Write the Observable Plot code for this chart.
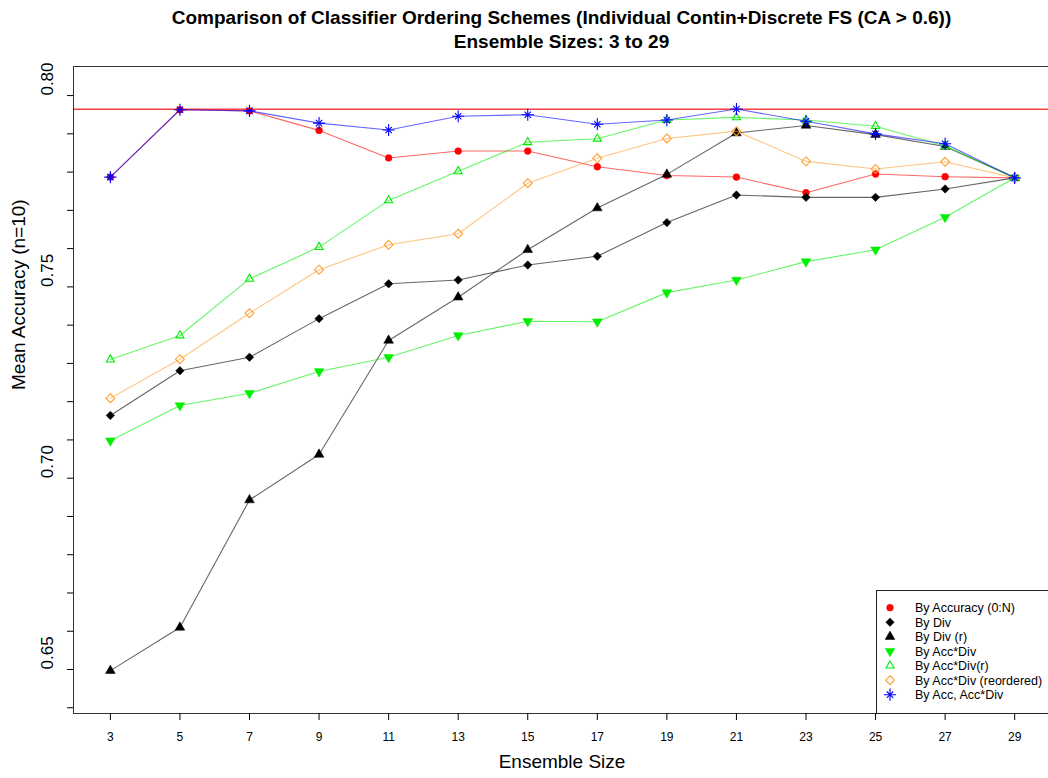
<!DOCTYPE html>
<html><head><meta charset="utf-8">
<script src="https://cdn.jsdelivr.net/npm/d3@7"></script>
<script src="https://cdn.jsdelivr.net/npm/@observablehq/plot@0.6"></script>
<style>
html,body{margin:0;padding:0;background:#fff;overflow:hidden;width:1048px;height:778px;}
body{font-family:"Liberation Sans",Arial,Helvetica,sans-serif;position:relative;}
#title{position:absolute;left:73px;width:977px;top:0;text-align:center;font-weight:bold;font-size:19px;line-height:24px;padding-top:6px;color:#000}
#chart{position:absolute;left:0;top:54px;width:1048px;overflow:hidden;}
#legend{position:absolute;left:876px;top:590px;width:190px;height:124px;border:1px solid #222;background:#fff;box-sizing:border-box}
</style></head><body>
<div id="chart"></div>
<div id="title">Comparison of Classifier Ordering Schemes (Individual Contin+Discrete FS (CA &gt; 0.6))<br>Ensemble Sizes: 3 to 29</div>
<div id="legend"></div>
<script>
// ---- data ----
const sizes = [3, 5, 7, 9, 11, 13, 15, 17, 19, 21, 23, 25, 27, 29];
const byAccuracy   = [0.7787, 0.7963, 0.7960, 0.7909, 0.7837, 0.7855, 0.7855, 0.7814, 0.7791, 0.7787, 0.7746, 0.7795, 0.7788, 0.7785];
const byDiv        = [0.7164, 0.7281, 0.7316, 0.7417, 0.7508, 0.7518, 0.7557, 0.7580, 0.7668, 0.7740, 0.7734, 0.7734, 0.7756, 0.7785];
const byDivR       = [0.6497, 0.6610, 0.6943, 0.7062, 0.7360, 0.7473, 0.7597, 0.7706, 0.7794, 0.7902, 0.7922, 0.7898, 0.7867, 0.7785];
const byAccDiv     = [0.7098, 0.7190, 0.7222, 0.7279, 0.7316, 0.7373, 0.7410, 0.7409, 0.7485, 0.7518, 0.7566, 0.7597, 0.7682, 0.7785];
const byAccDivR    = [0.7310, 0.7373, 0.7521, 0.7604, 0.7726, 0.7802, 0.7878, 0.7887, 0.7936, 0.7943, 0.7936, 0.7920, 0.7868, 0.7785];
const byAccDivReo  = [0.7209, 0.7311, 0.7431, 0.7545, 0.7610, 0.7639, 0.7771, 0.7836, 0.7888, 0.7907, 0.7828, 0.7808, 0.7827, 0.7785];
const byAccAccDiv  = [0.7787, 0.7963, 0.7960, 0.7928, 0.7910, 0.7946, 0.7950, 0.7925, 0.7936, 0.7965, 0.7933, 0.7900, 0.7874, 0.7785];
const seriesNames = ["By Accuracy (0:N)", "By Div", "By Div (r)", "By Acc*Div", "By Acc*Div(r)", "By Acc*Div (reordered)", "By Acc, Acc*Div"];
const bestAccuracy = 0.7964;
const xTicks = [3, 5, 7, 9, 11, 13, 15, 17, 19, 21, 23, 25, 27, 29];
const yTicks = [0.64, 0.65, 0.66, 0.67, 0.68, 0.69, 0.70, 0.71, 0.72, 0.73, 0.74, 0.75, 0.76, 0.77, 0.78, 0.79, 0.80];
const yLabels = [0.65, 0.70, 0.75, 0.80];

// ---- styles ----
const seriesValues = [byAccuracy, byDiv, byDivR, byAccDiv, byAccDivR, byAccDivReo, byAccAccDiv];
const styles = [
  {color: "#ff0000", symbols: [{s: "circle", r: 3.4, fill: true}]},
  {color: "#000000", symbols: [{s: "diamond2", r: 3.8, fill: true}]},
  {color: "#000000", symbols: [{s: "triangle", r: 3.6, fill: true}]},
  {color: "#00ee00", symbols: [{s: "triangle", r: 3.6, fill: true, rotate: 180}]},
  {color: "#00ee00", symbols: [{s: "triangle2", r: 3.9, fill: false}]},
  {color: "#ff9f30", symbols: [{s: "diamond2", r: 4, fill: false}]},
  {color: "#0000ff", symbols: [{s: "plus", r: 4, fill: false}, {s: "times", r: 3, fill: false}]}
];

const rows = seriesNames.flatMap((name, i) => sizes.map((s, j) => ({series: name, idx: i, size: s, value: seriesValues[i][j]})));

const marks = [
  Plot.ruleY([bestAccuracy], {stroke: "#ff2020", strokeWidth: 1.5, strokeOpacity: 0.85})
];
seriesNames.forEach((name, i) => {
  const data = rows.filter(d => d.idx === i);
  const st = styles[i];
  marks.push(Plot.line(data, {x: "size", y: "value", stroke: st.color, strokeOpacity: 0.6, strokeWidth: 1.1}));
  st.symbols.forEach(sy => {
    marks.push(Plot.dot(data, {
      x: "size", y: "value", symbol: sy.s, r: sy.r,
      fill: sy.fill ? st.color : "none", stroke: st.color, strokeWidth: sy.fill ? 0.5 : 1.1,
      rotate: sy.rotate || 0
    }));
  });
});
marks.push(
  Plot.frame({stroke: "#333", strokeWidth: 1}),
  Plot.axisX({ticks: xTicks, tickSize: 7, tickPadding: 12, fontSize: 12, label: null, tickFormat: d => String(d)}),
  Plot.axisY({ticks: yTicks, tickSize: 6, tickFormat: () => "", label: null}),
  Plot.text(yLabels, {y: d => d, text: d => d.toFixed(2), frameAnchor: "left", dx: -26, rotate: -90, fontSize: 17}),
  Plot.text(["Mean Accuracy (n=10)"], {text: d => d, frameAnchor: "left", dx: -55, rotate: -90, fontSize: 19}),
  Plot.text(["Ensemble Size"], {text: d => d, frameAnchor: "bottom", dy: 54, fontSize: 19})
);

const chart = Plot.plot({
  width: 1050, height: 724,
  marginTop: 12, marginBottom: 65, marginLeft: 73, marginRight: 0,
  x: {domain: [1.94, 30.03]},
  y: {domain: [0.6385, 0.8076]},
  style: {fontFamily: '"Liberation Sans", Arial, Helvetica, sans-serif', color: "#000", background: "#fff", maxWidth: "none", overflow: "visible"},
  marks
});
document.getElementById("chart").appendChild(chart);

// ---- legend ----
const symMap = {circle: d3.symbolCircle, diamond2: d3.symbolDiamond2, triangle: d3.symbolTriangle, triangle2: d3.symbolTriangle2, plus: d3.symbolPlus, times: d3.symbolTimes};
const lg = d3.select("#legend").append("svg").attr("width", 188).attr("height", 122)
  .style("font-family", '"Liberation Sans", Arial, Helvetica, sans-serif');
seriesNames.forEach((name, i) => {
  const st = styles[i];
  const cy = 16.7 + i * 14.5;
  const g = lg.append("g").attr("transform", `translate(13,${cy})`);
  st.symbols.forEach(sy => {
    g.append("path")
      .attr("d", d3.symbol(symMap[sy.s], Math.PI * sy.r * sy.r)())
      .attr("transform", `rotate(${sy.rotate || 0})`)
      .attr("fill", sy.fill ? st.color : "none")
      .attr("stroke", st.color)
      .attr("stroke-width", sy.fill ? 0.5 : 1.1);
  });
  lg.append("text").attr("x", 38).attr("y", cy).attr("dy", "0.35em")
    .attr("font-size", 12.5).attr("fill", "#000").text(name);
});
</script>
</body></html>
